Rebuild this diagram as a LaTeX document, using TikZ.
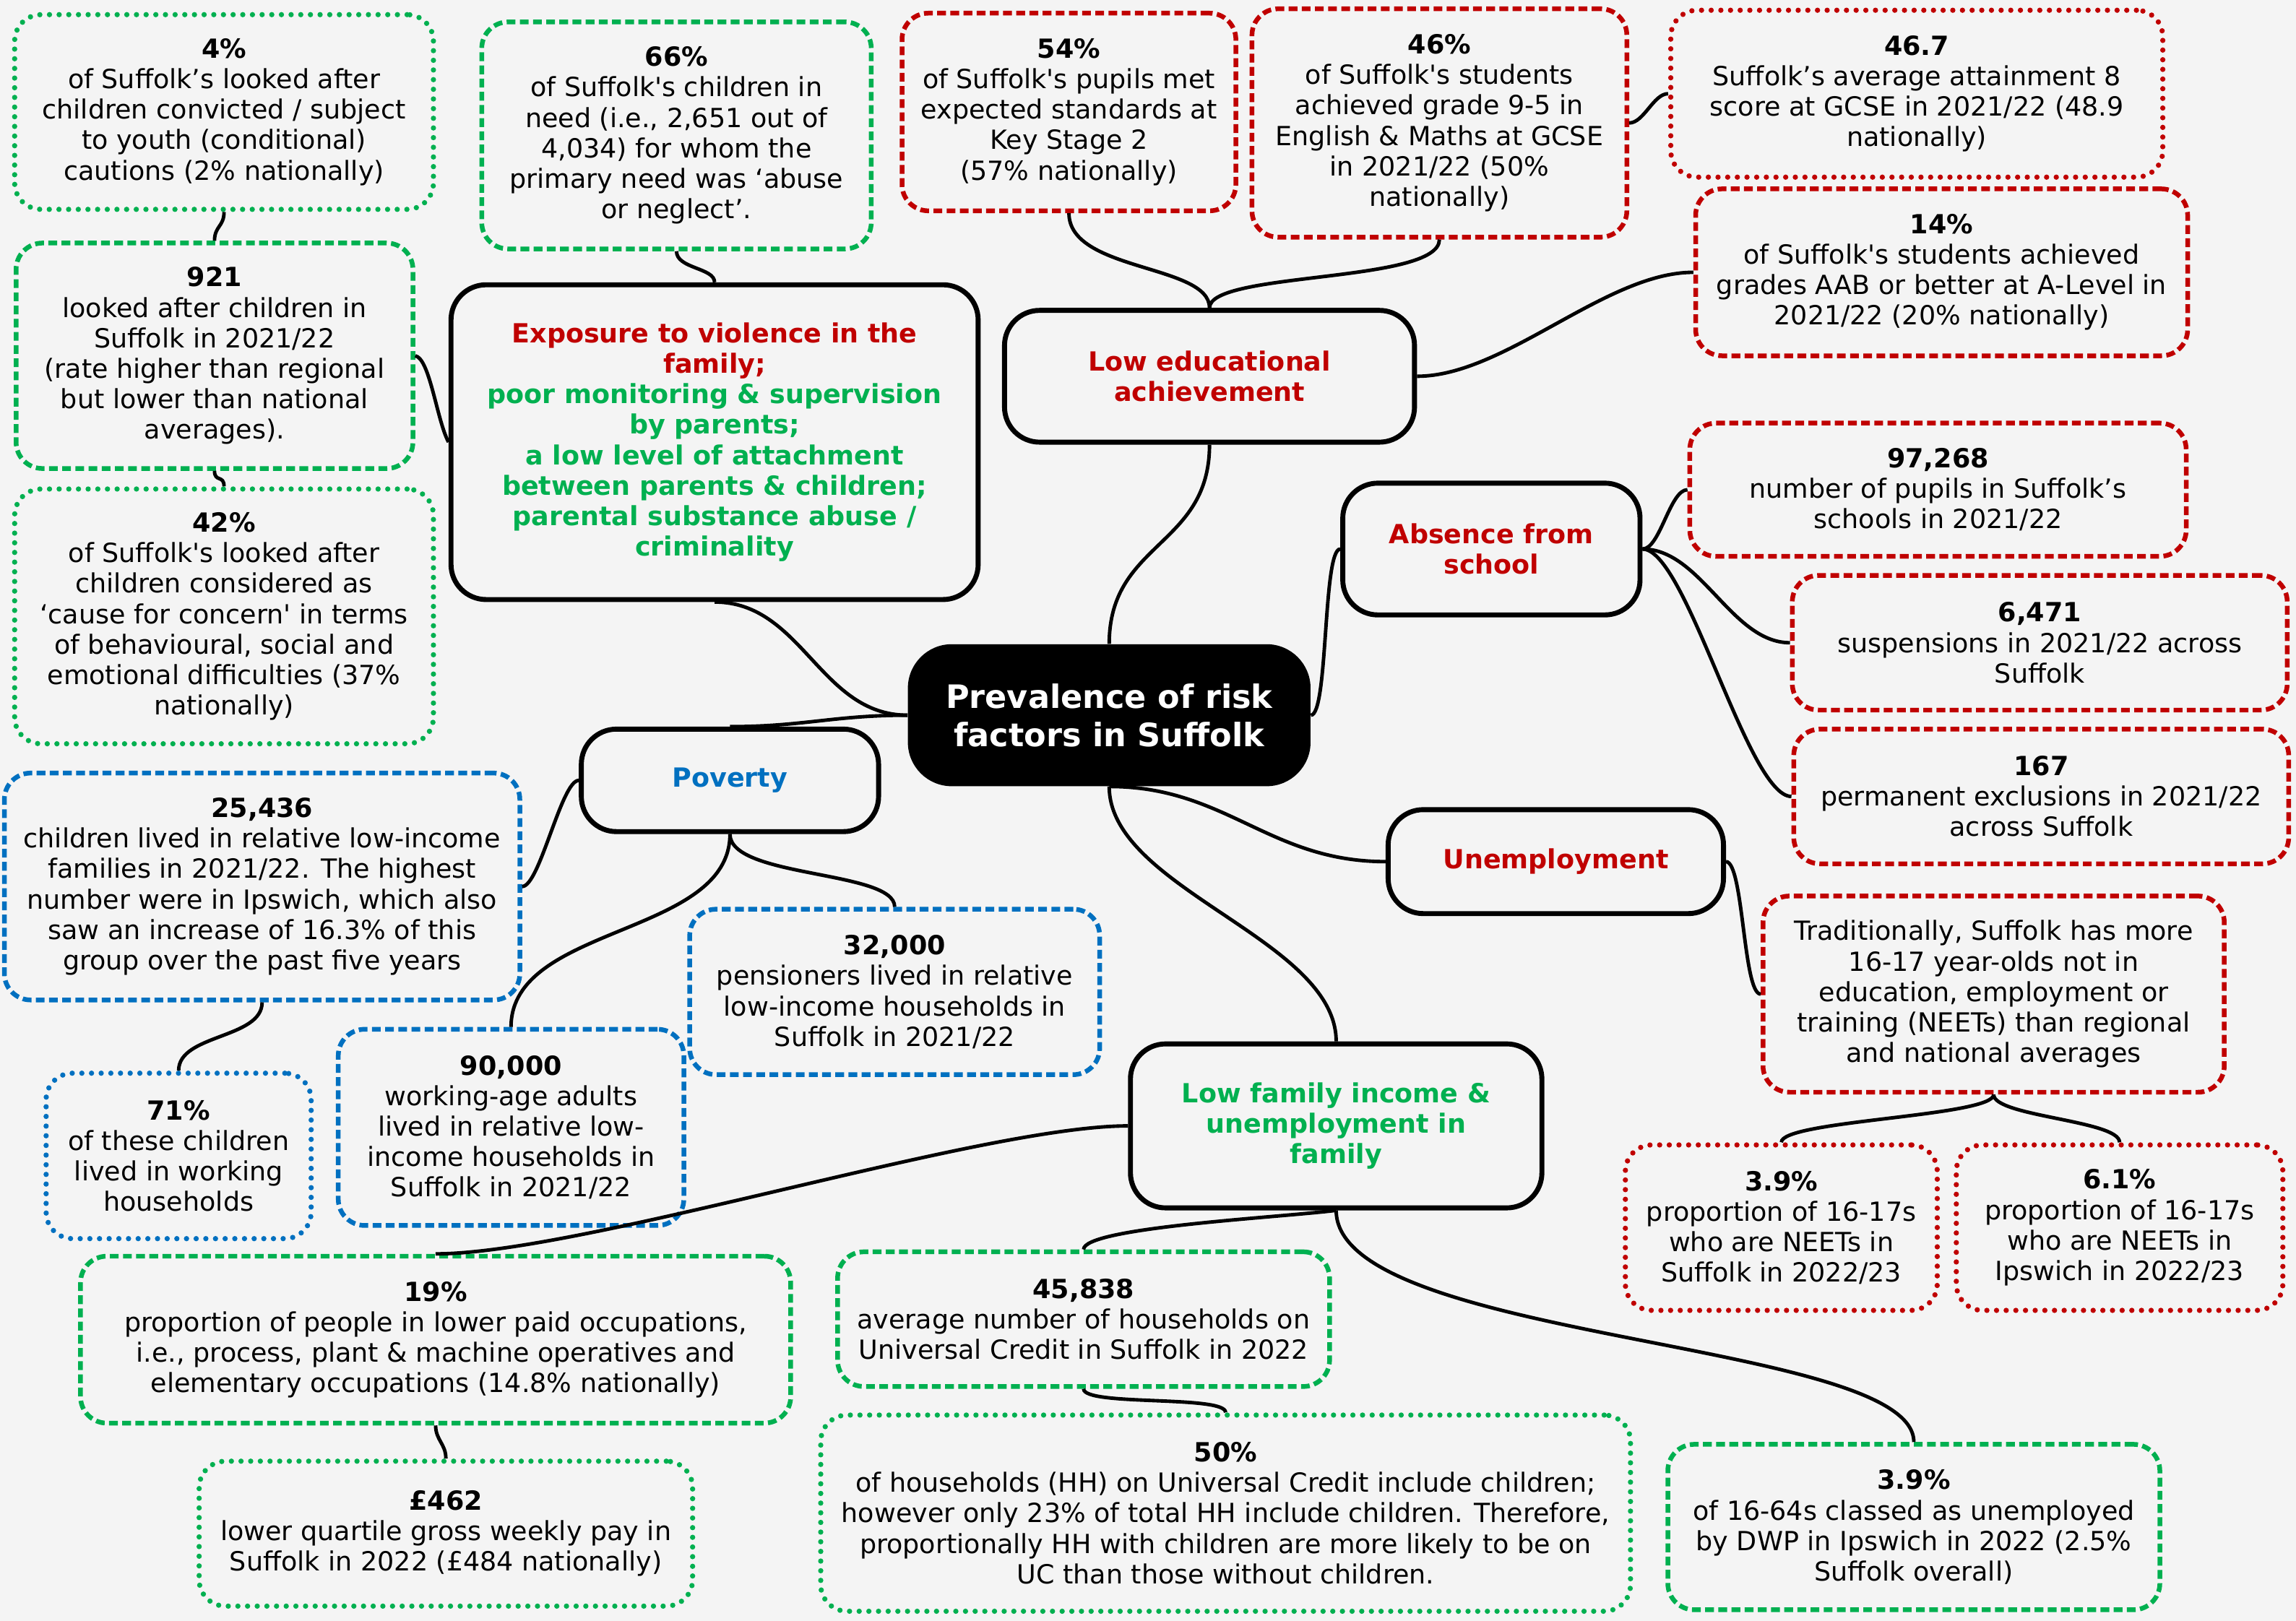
\documentclass[tikz,border=0pt]{standalone}
\usepackage{fontspec}
\newfontfamily\vfont{DejaVu Sans}
\definecolor{rd}{HTML}{C00000}
\definecolor{gn}{HTML}{00B050}
\definecolor{bl}{HTML}{0070C0}
\definecolor{bgc}{HTML}{F4F4F4}
\tikzset{
  sz/.style 2 args={minimum width=#1pt, minimum height=#2pt},
  leaf/.style={rounded corners=18pt, inner sep=0pt, align=center, line width=3.2pt,
    font=\vfont\fontsize{18}{20.8}\selectfont, text=black},
  dsh/.style={leaf, dash pattern=on 6pt off 3pt},
  dot/.style={leaf, line width=3.6pt, dash pattern=on 0pt off 6.6pt, line cap=round},
  br/.style={draw=black, line width=3.4pt, rounded corners=24pt, inner sep=0pt, align=center,
    font=\vfont\bfseries\fontsize{18}{20.8}\selectfont},
  con/.style={line width=2.4pt, draw=black},
}
\begin{document}
\begin{tikzpicture}[x=1pt, y=-1pt]
\fill[bgc] (0,0) rectangle (1568,1107);
\useasboundingbox (0,0) rectangle (1568,1107);

% central
\node[fill=black, rounded corners=30pt, sz={275}{97}, inner sep=0pt, align=center, text=white,
  font=\vfont\bfseries\fontsize{22}{26}\selectfont] (cen) at (757.5,488.5) {Prevalence of risk\\factors in Suffolk};

% branches
\node[br, sz={360}{215}] (exp) at (488,302) {\textcolor{rd}{Exposure to violence in the}\\\textcolor{rd}{family;}\\\textcolor{gn}{poor monitoring \& supervision}\\\textcolor{gn}{by parents;}\\\textcolor{gn}{a low level of attachment}\\\textcolor{gn}{between parents \& children;}\\\textcolor{gn}{parental substance abuse /}\\\textcolor{gn}{criminality}};
\node[br, sz={280}{90}, text=rd] (led) at (826,257) {Low educational\\achievement};
\node[br, sz={203}{90}, text=rd] (abs) at (1018.5,375) {Absence from\\school};
\node[br, sz={229}{71}, text=rd] (une) at (1062.5,588.5) {Unemployment};
\node[br, sz={281}{112}, text=gn] (lfi) at (912.5,769) {Low family income \&\\unemployment in\\family};
\node[br, sz={203}{70}, text=bl] (pov) at (498.5,533) {Poverty};

% green leaves (upper left)
\node[dot, draw=gn, sz={286}{133}] (g1) at (153,76.5) {\textbf{4\%}\\of Suffolk’s looked after\\children convicted / subject\\to youth (conditional)\\cautions (2\% nationally)};
\node[dsh, draw=gn, sz={271}{154}] (g2) at (146.5,243) {\textbf{921}\\looked after children in\\Suffolk in 2021/22\\(rate higher than regional\\but lower than national\\averages).};
\node[dot, draw=gn, sz={286}{174}] (g3) at (153,421) {\textbf{42\%}\\of Suffolk's looked after\\children considered as\\‘cause for concern' in terms\\of behavioural, social and\\emotional difficulties (37\%\\nationally)};
\node[dsh, draw=gn, sz={266}{155}] (g4) at (462,92.5) {\textbf{66\%}\\of Suffolk's children in\\need (i.e., 2,651 out of\\4,034) for whom the\\primary need was ‘abuse\\or neglect’.};

% red leaves
\node[dsh, draw=rd, sz={228}{135}] (r1) at (730,76.5) {\textbf{54\%}\\of Suffolk's pupils met\\expected standards at\\Key Stage 2\\(57\% nationally)};
\node[dsh, draw=rd, sz={256}{156}] (r2) at (983,84) {\textbf{46\%}\\of Suffolk's students\\achieved grade 9-5 in\\English \& Maths at GCSE\\in 2021/22 (50\%\\nationally)};
\node[dot, draw=rd, sz={336}{114}] (r3) at (1309,64) {\textbf{46.7}\\Suffolk’s average attainment 8\\score at GCSE in 2021/22 (48.9\\nationally)};
\node[dsh, draw=rd, sz={336}{114}] (r4) at (1326,186) {\textbf{14\%}\\of Suffolk's students achieved\\grades AAB or better at A-Level in\\2021/22 (20\% nationally)};
\node[dsh, draw=rd, sz={339}{91}] (r5) at (1323.5,334.5) {\textbf{97,268}\\number of pupils in Suffolk’s\\schools in 2021/22};
\node[dsh, draw=rd, sz={338}{92}] (r6) at (1393,439) {\textbf{6,471}\\suspensions in 2021/22 across\\Suffolk};
\node[dsh, draw=rd, sz={338}{92}] (r7) at (1394,544) {\textbf{167}\\permanent exclusions in 2021/22\\across Suffolk};
\node[dsh, draw=rd, sz={315}{134}] (r8) at (1361.5,679) {Traditionally, Suffolk has more\\16-17 year-olds not in\\education, employment or\\training (NEETs) than regional\\and national averages};
\node[dot, draw=rd, sz={213}{113}] (r9) at (1216.5,838.5) {\textbf{3.9\%}\\proportion of 16-17s\\who are NEETs in\\Suffolk in 2022/23};
\node[dot, draw=rd, sz={223}{113}] (r10) at (1447.5,838.5) {\textbf{6.1\%}\\proportion of 16-17s\\who are NEETs in\\Ipswich in 2022/23};

% blue leaves
\node[dsh, draw=bl, sz={352}{155}] (b1) at (179,605.5) {\textbf{25,436}\\children lived in relative low-income\\families in 2021/22. The highest\\number were in Ipswich, which also\\saw an increase of 16.3\% of this\\group over the past five years};
\node[dot, draw=bl, sz={181}{113}] (b2) at (122,789.5) {\textbf{71\%}\\of these children\\lived in working\\households};
\node[dsh, draw=bl, sz={236}{134}] (b3) at (349,770) {\textbf{90,000}\\working-age adults\\lived in relative low-\\income households in\\Suffolk in 2021/22};
\node[dsh, draw=bl, sz={280}{113}] (b4) at (611,677.5) {\textbf{32,000}\\pensioners lived in relative\\low-income households in\\Suffolk in 2021/22};

% green leaves (lower)
\node[dsh, draw=gn, sz={485}{114}] (g5) at (297.5,915) {\textbf{19\%}\\proportion of people in lower paid occupations,\\i.e., process, plant \& machine operatives and\\elementary occupations (14.8\% nationally)};
\node[dot, draw=gn, sz={337}{99}] (g6) at (304.5,1047.5) {\textbf{£462}\\lower quartile gross weekly pay in\\Suffolk in 2022 (£484 nationally)};
\node[dsh, draw=gn, sz={336}{92}] (g7) at (740,901) {\textbf{45,838}\\average number of households on\\Universal Credit in Suffolk in 2022};
\node[dot, draw=gn, sz={553}{134}] (g8) at (837,1033.5) {\textbf{50\%}\\of households (HH) on Universal Credit include children;\\however only 23\% of total HH include children. Therefore,\\proportionally HH with children are more likely to be on\\UC than those without children.};
\node[dsh, draw=gn, sz={336}{113}] (g9) at (1307,1043) {\textbf{3.9\%}\\of 16-64s classed as unemployed\\by DWP in Ipswich in 2022 (2.5\%\\Suffolk overall)};

% connectors
\draw[con] (g1.south) .. controls +(0,10) and +(0,-10) .. (g2.north);
\draw[con] (g2.south) .. controls +(0,8) and +(0,-8) .. (g3.north);
\draw[con] (g2.east) .. controls +(10,2) and +(-8,-15) .. (exp.west);
\draw[con] (g4.south) .. controls +(0,12) and +(0,-10) .. (exp.north);
\draw[con] (exp.south) .. controls +(60,0) and +(-60,0) .. (cen.west);
\draw[con] (cen.west) .. controls +(-50,0) and +(50,0) .. (pov.north);
\draw[con] (r1.south) .. controls +(0,40) and +(0,-30) .. (led.north);
\draw[con] (r2.south) .. controls +(0,30) and +(0,-25) .. (led.north);
\draw[con] (r2.east) .. controls +(10,0) and +(-10,0) .. (r3.west);
\draw[con] (led.east) .. controls +(60,0) and +(-60,0) .. (r4.west);
\draw[con] (led.south) .. controls +(0,70) and +(0,-70) .. (cen.north);
\draw[con] (cen.east) .. controls +(12,0) and +(-12,0) .. (abs.west);
\draw[con] (abs.east) .. controls +(12,0) and +(-12,0) .. (r5.west);
\draw[con] (abs.east) .. controls +(40,0) and +(-40,0) .. (r6.west);
\draw[con] (abs.east) .. controls +(30,0) and +(-30,0) .. (r7.west);
\draw[con] (cen.south) .. controls +(80,0) and +(-80,0) .. (une.west);
\draw[con] (cen.south) .. controls +(0,70) and +(0,-70) .. (lfi.north);
\draw[con] (une.east) .. controls +(12,0) and +(-12,0) .. (r8.west);
\draw[con] (r8.south) .. controls +(0,15) and +(0,-15) .. (r9.north);
\draw[con] (r8.south) .. controls +(0,15) and +(0,-15) .. (r10.north);
\draw[con] (pov.west) .. controls +(-12,0) and +(12,0) .. (b1.east);
\draw[con] (b1.south) .. controls +(0,25) and +(0,-25) .. (b2.north);
\draw[con] (pov.south) .. controls +(0,70) and +(0,-70) .. (b3.north);
\draw[con] (pov.south) .. controls +(0,30) and +(0,-25) .. (b4.north);
\draw[con] (lfi.west) .. controls +(-100,0) and +(100,0) .. (g5.north);
\draw[con] (g5.south) .. controls +(0,10) and +(0,-10) .. (g6.north);
\draw[con] (lfi.south) .. controls +(-40,5) and +(0,-15) .. (g7.north);
\draw[con] (lfi.south) .. controls +(0,90) and +(0,-70) .. (g9.north);
\draw[con] (g7.south) .. controls +(0,12) and +(0,-12) .. (g8.north);
\end{tikzpicture}
\end{document}
